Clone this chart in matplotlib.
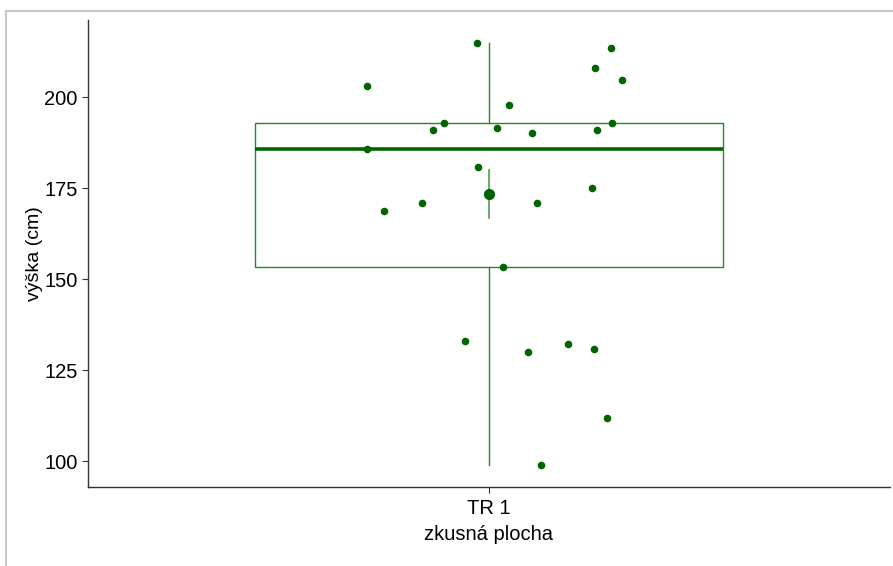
import numpy as np
import matplotlib.pyplot as plt
from matplotlib.lines import Line2D

plt.rcParams['font.family'] = ['Liberation Sans', 'DejaVu Sans']

# data
category = "TR 1"
heights = [214.8, 213.5, 208.0, 204.7, 203.0, 197.8, 192.9, 192.9, 190.9, 191.5,
           190.1, 190.9, 185.7, 180.8, 175.0, 168.7, 170.9, 170.9, 153.3, 133.0,
           132.1, 129.9, 130.8, 111.8, 98.9]
jitter_x = [0.982, 1.182, 1.158, 1.199, 0.818, 1.030, 0.933, 1.184, 0.916, 1.012,
            1.064, 1.161, 0.817, 0.984, 1.155, 0.843, 0.900, 1.072, 1.021, 0.964,
            1.118, 1.058, 1.157, 1.176, 1.078]
y_ticks = [100, 125, 150, 175, 200]

green = "#006400"
line_green = "#1f8a1f"

fig = plt.figure(figsize=(8.93, 5.66), dpi=100)
ax = fig.add_axes([0.0985, 0.1396, 0.898, 0.8251])

ax.boxplot([heights], positions=[1], widths=0.7, whis=1.5, showfliers=False,
           patch_artist=True,
           boxprops=dict(facecolor="white", edgecolor=line_green, linewidth=1.0),
           medianprops=dict(color=green, linewidth=2.6),
           whiskerprops=dict(color=line_green, linewidth=1.0),
           capprops=dict(linewidth=0))

ax.scatter(jitter_x, heights, s=30, color=green, zorder=3, linewidths=0)

# mean +- standard error
h = np.array(heights)
mean = h.mean()
se = h.std(ddof=1) / np.sqrt(len(h))
ax.plot([1, 1], [mean - se, mean + se], color="#4f9f4f", linewidth=1.2, zorder=3)
ax.scatter([1], [mean], s=65, color=green, zorder=4, linewidths=0)

ax.set_xlim(0.4, 1.6)
ax.set_ylim(92.9, 221.2)
ax.set_xticks([1])
ax.set_xticklabels([category])
ax.set_yticks(y_ticks)
ax.tick_params(labelsize=14.5, length=4, color="#333333", labelcolor="black")
ax.tick_params(axis="x", pad=4.5)
ax.set_xlabel("zkusná plocha", fontsize=14.5, labelpad=5.5)
ax.set_ylabel("výška (cm)", fontsize=14, labelpad=0.5)
for side in ["top", "right"]:
    ax.spines[side].set_visible(False)
for side in ["left", "bottom"]:
    ax.spines[side].set_color("#333333")
    ax.spines[side].set_linewidth(1.0)

# gray frame of the screenshot
fig.add_artist(Line2D([6 / 893, 1], [1 - 11 / 566, 1 - 11 / 566], color="#c8c8c8", linewidth=1.5))
fig.add_artist(Line2D([6 / 893, 6 / 893], [0, 1 - 11 / 566], color="#c8c8c8", linewidth=1.5))

fig.savefig("out.png", dpi=100)
